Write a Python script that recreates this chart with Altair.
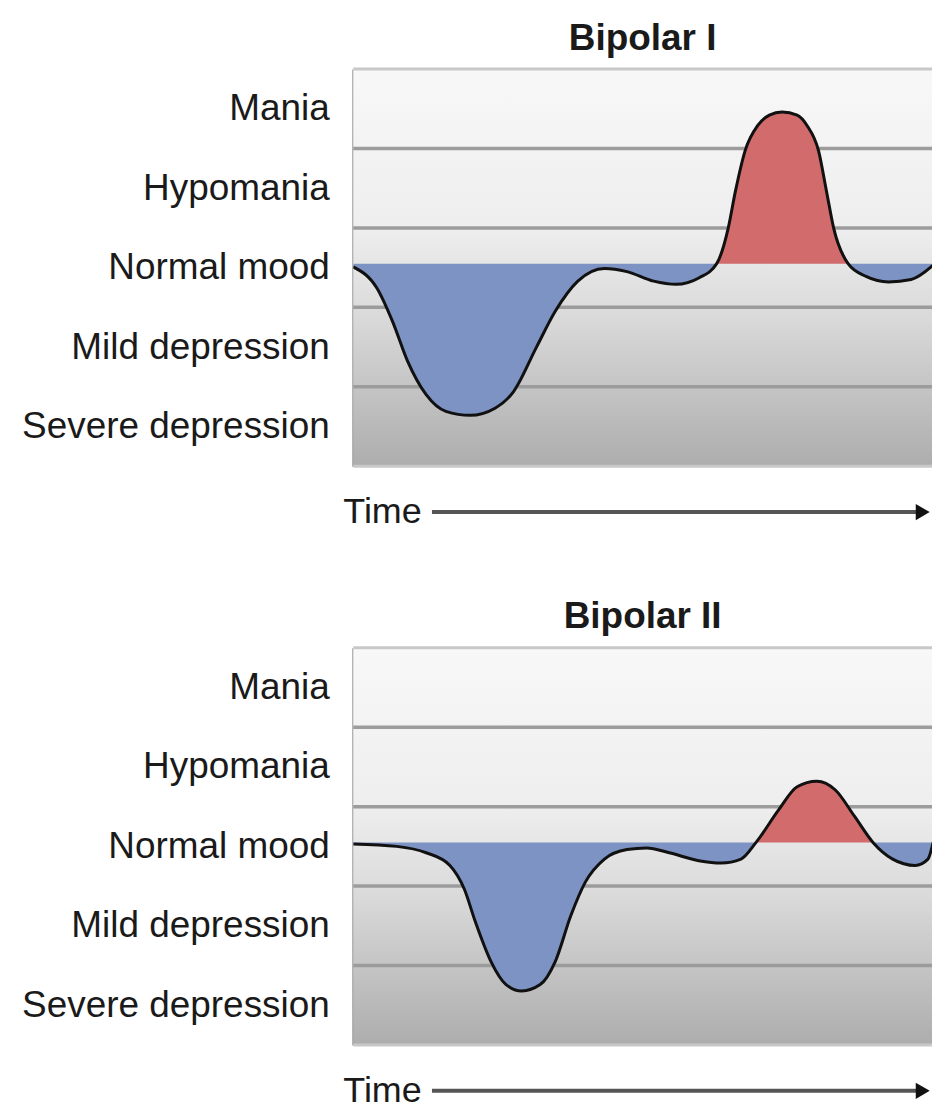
import json
import altair as alt
import pandas as pd

# ---------------- data ----------------
levels = ["Severe depression", "Mild depression", "Normal mood", "Hypomania", "Mania"]
band_edges = [1, 2, 3, 4]
frame_edges = [0, 5]
baseline = 2.55

# Bipolar I mood curve (time 0-100, mood level 0-5)
t1 = [0, 4.1, 6.8, 9.4, 12.6, 16.0, 20.2, 24.5, 27.7, 31.6, 34.9, 38.8, 43.4, 47.3,
      51.9, 55.8, 59.7, 62.8, 64.8, 66.0, 67.7, 69.9, 71.9, 74.1, 76.7, 78.4, 80.4,
      81.8, 83.0, 85.5, 88.6, 92.5, 96.4, 100.2]
v1 = [2.51, 2.24, 1.82, 1.32, 0.90, 0.69, 0.64, 0.73, 0.94, 1.49, 1.95, 2.33, 2.49, 2.45,
      2.33, 2.29, 2.37, 2.55, 3.00, 3.45, 3.97, 4.29, 4.42, 4.46, 4.42, 4.29, 3.97,
      3.45, 3.00, 2.55, 2.39, 2.32, 2.35, 2.53]

# Bipolar II mood curve
t2 = [0, 7.5, 12.6, 16.7, 19.2, 21.1, 23.8, 26.4, 29.1, 32.3, 34.9, 37.6, 40.1, 43.4,
      47.3, 50.7, 54.6, 59.7, 63.6, 67.0, 69.6, 73.5, 76.7, 80.1, 83.3, 86.6, 89.8,
      93.2, 97.1, 99.3, 100.2]
v2 = [2.53, 2.50, 2.42, 2.26, 1.96, 1.55, 1.05, 0.76, 0.68, 0.76, 1.05, 1.63, 2.05, 2.34,
      2.46, 2.48, 2.42, 2.32, 2.29, 2.34, 2.55, 2.96, 3.25, 3.32, 3.21, 2.88, 2.55,
      2.34, 2.26, 2.34, 2.55]

titles = ["Bipolar I", "Bipolar II"]
time_label = "Time"

# ---------------- styling ----------------
FONT = "'Liberation Sans', Arial, sans-serif"
BLUE = "#7d93c3"
RED = "#d16b6c"
W, H = 580, 398
TIME_Y = H + 46
AXIS_EXTENT = 346


def split_segments(ts, vs, base):
    segs = [[]]
    for t, v in zip(ts, vs):
        segs[-1].append((t, v))
        if abs(v - base) < 1e-9 and len(segs[-1]) > 1:
            segs.append([(t, v)])
    rows = []
    for i, sg in enumerate(segs):
        if len(sg) < 2:
            continue
        side = "above" if max(v for _, v in sg) > base + 1e-9 else "below"
        for t, v in sg:
            rows.append({"t": t, "v": v, "b": base, "seg": i, "side": side})
    return pd.DataFrame(rows)


label_expr = json.dumps(levels) + "[floor(datum.value)]"
xscale = alt.Scale(domain=[0, 100], nice=False, zero=False)
yscale = alt.Scale(domain=[0, 5], nice=False, zero=False)

gradient = alt.Gradient(
    gradient="linear",
    stops=[
        alt.GradientStop(color="#f8f8f8", offset=0),
        alt.GradientStop(color="#eeeeee", offset=0.4),
        alt.GradientStop(color="#dadada", offset=0.62),
        alt.GradientStop(color="#adadad", offset=1),
    ],
    x1=0, x2=0, y1=0, y2=1,
)


def panel(ts, vs, title):
    bg_df = pd.DataFrame([{"x0": 0, "x1": 100, "y0": 0, "y1": 5}])
    bg = alt.Chart(bg_df).mark_rect(fill=gradient).encode(
        x=alt.X("x0:Q", scale=xscale, axis=None),
        x2="x1:Q",
        y=alt.Y(
            "y0:Q",
            scale=yscale,
            axis=alt.Axis(
                values=[i + 0.5 for i in range(len(levels))],
                labelExpr=label_expr,
                ticks=False,
                grid=False,
                title=None,
                domain=True,
                domainColor="#9a9a9a",
                domainWidth=3,
                labelFont=FONT,
                labelFontSize=37,
                labelColor="#1a1a1a",
                labelPadding=24,
                labelLimit=0,
                minExtent=AXIS_EXTENT,
                maxExtent=AXIS_EXTENT,
            ),
        ),
        y2="y1:Q",
    )
    grid = alt.Chart(pd.DataFrame({"y": band_edges})).mark_rule(
        color="#9c9c9c", strokeWidth=3.5
    ).encode(y=alt.Y("y:Q", scale=yscale))
    frame = alt.Chart(pd.DataFrame({"y": frame_edges})).mark_rule(
        color="#c8c8c8", strokeWidth=3
    ).encode(y=alt.Y("y:Q", scale=yscale))

    seg_df = split_segments(ts, vs, baseline)
    fill = alt.Chart(seg_df).mark_area(interpolate="monotone", clip=True).encode(
        x=alt.X("t:Q", scale=xscale),
        y=alt.Y("v:Q", scale=yscale, stack=None),
        y2="b:Q",
        detail="seg:N",
        color=alt.Color(
            "side:N",
            scale=alt.Scale(domain=["below", "above"], range=[BLUE, RED]),
            legend=None,
        ),
    )
    line = alt.Chart(pd.DataFrame({"t": ts, "v": vs})).mark_line(
        interpolate="monotone", color="#111111", strokeWidth=3, clip=True
    ).encode(x=alt.X("t:Q", scale=xscale), y=alt.Y("v:Q", scale=yscale))

    txt = alt.Chart(pd.DataFrame([{"t": 0, "label": time_label}])).mark_text(
        align="left", baseline="middle", dx=-10, font=FONT, fontSize=36, color="#1a1a1a"
    ).encode(x=alt.X("t:Q", scale=xscale), y=alt.value(TIME_Y), text="label:N")
    arrow = alt.Chart(pd.DataFrame([{"t0": 13.6, "t1": 97.5}])).mark_rule(
        color="#555555", strokeWidth=4
    ).encode(x=alt.X("t0:Q", scale=xscale), x2="t1:Q", y=alt.value(TIME_Y))
    head = alt.Chart(pd.DataFrame([{"t": 98.4}])).mark_point(
        shape="triangle-right", filled=True, size=260, color="#111111", opacity=1
    ).encode(x=alt.X("t:Q", scale=xscale), y=alt.value(TIME_Y))

    return alt.layer(bg, grid, frame, fill, line, txt, arrow, head).properties(
        width=W,
        height=H,
        title=alt.Title(
            title, fontSize=37, fontWeight="bold", font=FONT, color="#1a1a1a",
            anchor="middle", offset=10,
        ),
    )


chart = alt.vconcat(
    panel(t1, v1, titles[0]), panel(t2, v2, titles[1]), spacing=68
).properties(
    padding={"left": 0, "top": 10, "right": 0, "bottom": 0},
    background="white",
).configure_view(stroke=None)

chart.save("out.html", embed_options={"renderer": "svg", "actions": False})
